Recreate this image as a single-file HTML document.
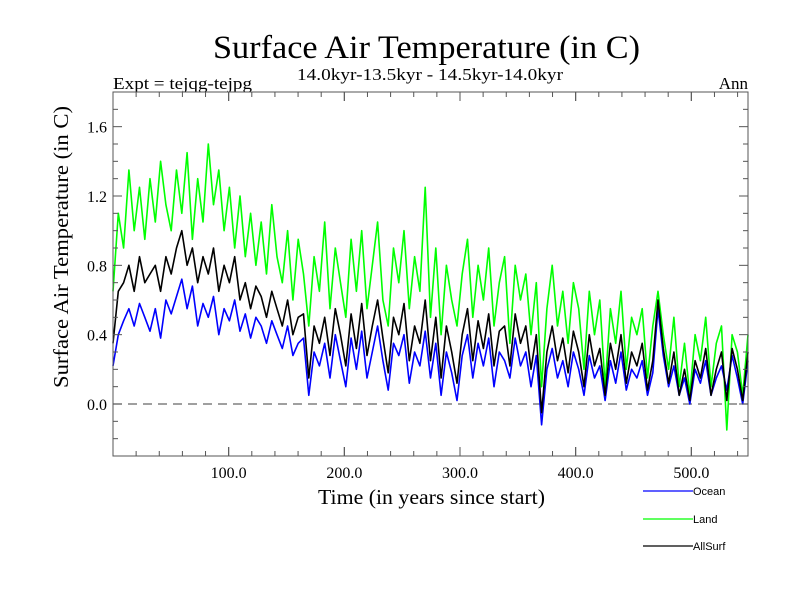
<!DOCTYPE html>
<html><head><meta charset="utf-8"><style>
body{margin:0;background:#fff}
svg text{font-family:"Liberation Serif",serif}
</style></head><body>
<svg id="c" width="800" height="600" xmlns="http://www.w3.org/2000/svg">
<rect width="800" height="600" fill="#fff"/>
<text x="213" y="58" font-size="33" textLength="427" lengthAdjust="spacingAndGlyphs">Surface Air Temperature (in C)</text>
<text x="297" y="80" font-size="17" textLength="266" lengthAdjust="spacingAndGlyphs">14.0kyr-13.5kyr - 14.5kyr-14.0kyr</text>
<text x="113" y="89" font-size="17" textLength="139" lengthAdjust="spacingAndGlyphs">Expt = tejqg-tejpg</text>
<text x="748" y="89" font-size="17" text-anchor="end">Ann</text>
<text transform="translate(68,388) rotate(-90)" font-size="21" textLength="282" lengthAdjust="spacingAndGlyphs">Surface Air Temperature (in C)</text>
<text x="318" y="504" font-size="21" textLength="227" lengthAdjust="spacingAndGlyphs">Time (in years since start)</text>
<g id="plot"></g>
<g>
<line x1="643" y1="491" x2="693" y2="491" stroke="#0000ff" stroke-width="1.3"/>
<text x="693" y="495" font-size="11" style="font-family:'Liberation Sans',sans-serif">Ocean</text>
<line x1="643" y1="519" x2="693" y2="519" stroke="#00ff00" stroke-width="1.3"/>
<text x="693" y="523" font-size="11" style="font-family:'Liberation Sans',sans-serif">Land</text>
<line x1="643" y1="546" x2="693" y2="546" stroke="#000" stroke-width="1.3"/>
<text x="693" y="550" font-size="11" style="font-family:'Liberation Sans',sans-serif">AllSurf</text>
</g>
</svg>
<script>
const ocean=[0.22,0.40,0.48,0.55,0.45,0.58,0.50,0.42,0.55,0.38,0.60,
0.52,0.62,0.72,0.55,0.68,0.45,0.58,0.50,0.62,0.40,0.55,
0.48,0.60,0.42,0.52,0.38,0.50,0.45,0.35,0.48,0.40,0.32,
0.45,0.28,0.35,0.38,0.05,0.30,0.22,0.35,0.15,0.40,0.25,
0.10,0.38,0.20,0.42,0.15,0.30,0.45,0.25,0.08,0.35,0.28,
0.40,0.12,0.30,0.22,0.42,0.15,0.35,0.05,0.30,0.18,0.02,
0.28,0.40,0.15,0.35,0.22,0.38,0.10,0.30,0.25,0.15,0.38,
0.22,0.30,0.10,0.28,-0.12,0.20,0.32,0.15,0.25,0.10,0.30,
0.20,0.05,0.28,0.15,0.22,0.02,0.25,0.12,0.30,0.08,0.20,
0.15,0.25,0.05,0.18,0.55,0.28,0.10,0.22,0.05,0.15,0.00,
0.20,0.12,0.25,0.05,0.15,0.22,0.08,0.28,0.15,0.00,0.25];
const land=[0.65,1.10,0.90,1.35,1.00,1.25,0.95,1.30,1.05,1.40,1.15,
1.00,1.35,1.10,1.45,0.95,1.30,1.05,1.50,1.15,1.35,1.00,
1.25,0.90,1.20,0.85,1.10,0.80,1.05,0.75,1.15,0.85,0.70,
1.00,0.60,0.95,0.75,0.45,0.85,0.65,1.05,0.55,0.90,0.70,
0.50,0.95,0.65,1.00,0.55,0.80,1.05,0.60,0.45,0.90,0.70,
1.00,0.55,0.85,0.65,1.25,0.50,0.90,0.40,0.80,0.60,0.45,
0.75,0.95,0.50,0.80,0.60,0.90,0.45,0.70,0.85,0.35,0.80,
0.60,0.75,0.40,0.70,0.10,0.55,0.80,0.45,0.65,0.35,0.70,
0.55,0.20,0.65,0.40,0.60,0.10,0.55,0.35,0.65,0.20,0.50,
0.40,0.55,0.15,0.45,0.65,0.40,0.20,0.50,0.10,0.35,0.05,
0.40,0.25,0.50,0.10,0.35,0.45,-0.15,0.40,0.30,0.05,0.40];
const allsurf=[0.35,0.65,0.70,0.80,0.65,0.85,0.70,0.75,0.80,0.65,0.85,
0.75,0.90,1.00,0.80,0.90,0.70,0.85,0.75,0.90,0.65,0.80,
0.70,0.85,0.60,0.70,0.55,0.68,0.62,0.50,0.65,0.55,0.45,
0.60,0.40,0.50,0.52,0.15,0.45,0.35,0.50,0.28,0.55,0.40,
0.22,0.52,0.32,0.58,0.28,0.45,0.60,0.38,0.18,0.50,0.40,
0.58,0.25,0.45,0.35,0.60,0.25,0.50,0.15,0.45,0.30,0.12,
0.40,0.55,0.25,0.48,0.32,0.52,0.22,0.42,0.45,0.22,0.52,
0.35,0.45,0.20,0.40,-0.05,0.30,0.45,0.25,0.38,0.18,0.42,
0.30,0.10,0.40,0.22,0.32,0.05,0.35,0.20,0.40,0.12,0.30,
0.22,0.35,0.08,0.25,0.60,0.32,0.12,0.30,0.05,0.20,0.02,
0.25,0.15,0.32,0.05,0.20,0.30,0.02,0.32,0.20,0.02,0.30];
const yTicks=[0.0,0.4,0.8,1.2,1.6];
const yTickLabels=["0.0","0.4","0.8","1.2","1.6"];
const xTicks=[100,200,300,400,500];
const xTickLabels=["100.0","200.0","300.0","400.0","500.0"];
const startYear=0, endYear=549;

const L=113,R=748,T=92,B=456,ymin=-0.3,ymax=1.8;
const X=v=>L+(v-startYear)/(endYear-startYear)*(R-L);
const Y=v=>B-(v-ymin)/(ymax-ymin)*(B-T);
const NS='http://www.w3.org/2000/svg';
const g=document.getElementById('plot');
function mk(t,a){const e=document.createElementNS(NS,t);for(const k in a)e.setAttribute(k,a[k]);g.appendChild(e);return e;}
let z=mk('line',{x1:L,x2:R,y1:Y(0),y2:Y(0),stroke:'#666','stroke-width':1.2,'stroke-dasharray':'9,6'});


function series(arr,color,name){
  const n=arr.length;
  const d=arr.map((v,i)=>(i?'L':'M')+X(startYear+i*(endYear-startYear)/(n-1)).toFixed(1)+','+Y(v).toFixed(1)).join('');
  const p=mk('path',{d:d,fill:'none',stroke:color,'stroke-width':1.6,'stroke-linejoin':'round'});
  
  
}
series(land,'#00ff00','land-series');
series(ocean,'#0000ff','ocean-series');
series(allsurf,'#000000','allsurf-series');
let f=mk('rect',{x:L,y:T,width:R-L,height:B-T,fill:'none',stroke:'#555','stroke-width':1});


for(let v=-0.2;v<=1.75;v+=0.1){
  const vv=Math.round(v*10)/10;
  const major=yTicks.some(t=>Math.abs(t-vv)<1e-6);
  const len=major?9:5;
  mk('line',{x1:L,x2:L+len,y1:Y(vv),y2:Y(vv),stroke:'#555'});
  mk('line',{x1:R,x2:R-len,y1:Y(vv),y2:Y(vv),stroke:'#555'});
}
yTicks.forEach((v,i)=>{
  const t=mk('text',{x:L-6,y:Y(v)+6,'font-size':16,'text-anchor':'end'});
  t.textContent=yTickLabels[i];
  
  
});
for(let v=20;v<endYear;v+=20){
  const len=(v%100===0)?9:5;
  mk('line',{x1:X(v),x2:X(v),y1:B,y2:B-len,stroke:'#555'});
  mk('line',{x1:X(v),x2:X(v),y1:T,y2:T+len,stroke:'#555'});
}
xTicks.forEach((v,i)=>{
  mk('line',{x1:X(v),x2:X(v),y1:B,y2:B-9,stroke:'#555'});
  mk('line',{x1:X(v),x2:X(v),y1:T,y2:T+9,stroke:'#555'});
  const t=mk('text',{x:X(v),y:B+22,'font-size':16,'text-anchor':'middle'});
  t.textContent=xTickLabels[i];
  
  
});
</script>
</body></html>
